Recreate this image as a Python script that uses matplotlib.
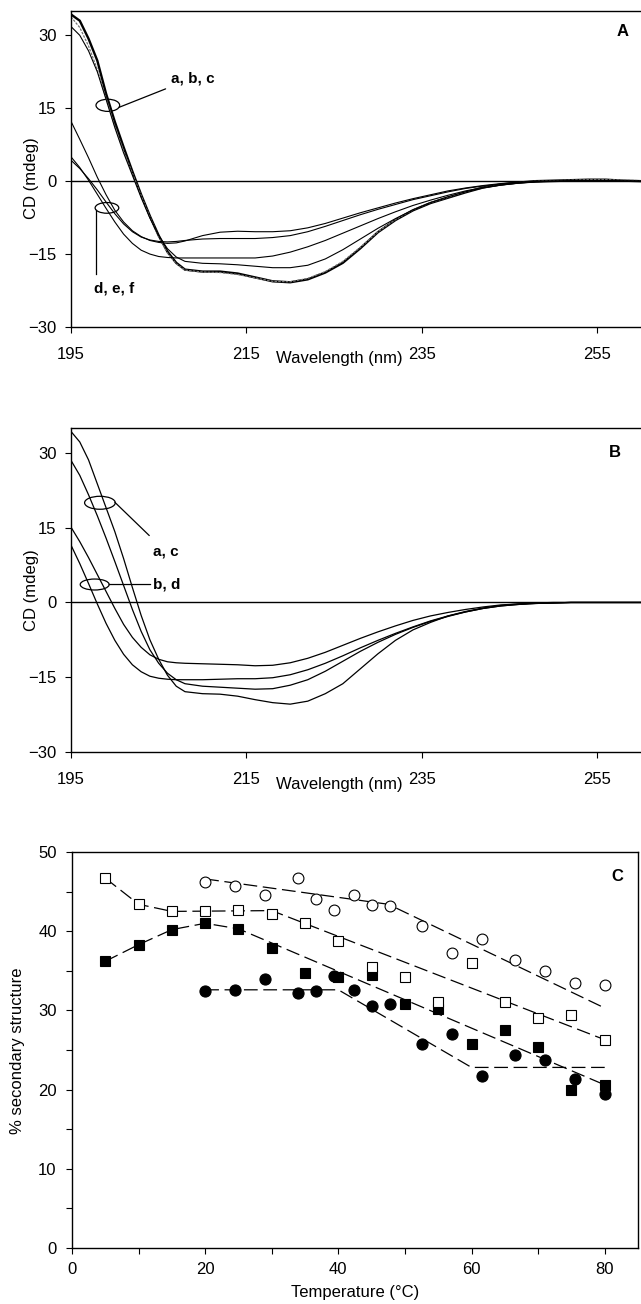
import matplotlib
matplotlib.use("Agg")
import matplotlib.pyplot as plt
from matplotlib.patches import Ellipse
from matplotlib.ticker import MultipleLocator

plt.rcParams['font.family'] = ['Liberation Sans', 'DejaVu Sans']
plt.rcParams['font.size'] = 12

# wavelength grid (nm) shared by the CD spectra
wavelength = [195, 196, 197, 198, 199, 200, 201, 202, 203, 204, 205, 206, 207, 208,
              210, 212, 214, 216, 218, 220, 222, 224, 226, 228, 230, 232, 234, 236,
              238, 240, 242, 244, 246, 248, 250, 252, 254, 256, 258, 260]

# panel A spectra (mdeg)
cdA_a = [34.3, 33.0, 29.3, 24.8, 18.0, 12.2, 7.0, 2.0, -2.8, -7.2, -11.2, -14.5, -16.8, -18.2,
         -18.6, -18.6, -19.0, -19.8, -20.6, -20.8, -20.2, -18.8, -16.8, -13.8, -10.5, -8.0, -6.0, -4.5,
         -3.4, -2.3, -1.3, -0.7, -0.3, 0.0, 0.1, 0.2, 0.3, 0.3, 0.1, 0.0]
cdA_b = [31.8, 30.0, 26.8, 22.5, 16.8, 11.0, 5.8, 1.2, -3.4, -7.6, -11.2, -13.9, -15.6, -16.5,
         -16.9, -17.0, -17.2, -17.5, -17.8, -17.8, -17.3, -16.0, -14.1, -11.9, -9.7, -7.7, -5.9, -4.4,
         -3.2, -2.2, -1.4, -0.8, -0.4, -0.2, -0.1, 0.0, 0.0, 0.1, 0.0, 0.0]
cdA_c = [33.8, 31.6, 27.8, 23.0, 17.0, 11.3, 6.2, 1.6, -3.0, -7.4, -11.4, -14.8, -17.0, -18.3,
         -18.7, -18.8, -19.2, -19.9, -20.6, -20.7, -20.0, -18.6, -16.5, -13.6, -10.4, -7.9, -5.9, -4.4,
         -3.3, -2.2, -1.3, -0.7, -0.3, 0.0, 0.1, 0.2, 0.3, 0.3, 0.2, 0.1]
cdA_d = [12.3, 8.6, 4.8, 0.8, -2.8, -6.0, -8.4, -10.2, -11.4, -12.2, -12.6, -12.8, -12.7, -12.3,
         -11.2, -10.5, -10.3, -10.4, -10.4, -10.2, -9.6, -8.7, -7.6, -6.5, -5.5, -4.5, -3.6, -2.8,
         -2.0, -1.4, -0.9, -0.5, -0.2, 0.0, 0.0, 0.1, 0.1, 0.1, 0.0, 0.0]
cdA_e = [5.0, 2.8, 0.2, -2.7, -5.6, -8.4, -10.9, -12.8, -14.2, -15.0, -15.5, -15.7, -15.8, -15.8,
         -15.8, -15.8, -15.8, -15.8, -15.4, -14.6, -13.5, -12.2, -10.7, -9.2, -7.7, -6.3, -5.0, -3.9,
         -2.9, -2.0, -1.3, -0.8, -0.4, -0.1, 0.0, 0.0, 0.0, 0.0, 0.0, 0.0]
cdA_f = [4.3, 2.6, 0.5, -1.8, -4.3, -6.7, -8.8, -10.4, -11.5, -12.1, -12.4, -12.5, -12.4, -12.2,
         -11.9, -11.8, -11.8, -11.8, -11.6, -11.2, -10.4, -9.3, -8.1, -6.9, -5.8, -4.8, -3.8, -3.0,
         -2.2, -1.5, -1.0, -0.6, -0.3, -0.1, 0.0, 0.0, 0.0, 0.0, 0.0, 0.0]

# panel B spectra (mdeg)
cdB_a = [34.3, 32.2, 28.6, 23.8, 19.0, 14.2, 8.8, 3.0, -2.6, -7.5, -11.4, -14.6, -16.8, -17.9,
         -18.3, -18.4, -18.8, -19.5, -20.1, -20.4, -19.8, -18.3, -16.3, -13.3, -10.3, -7.6, -5.5, -4.0,
         -2.7, -1.8, -1.1, -0.6, -0.3, -0.1, 0.0, 0.0, 0.0, 0.0, 0.0, 0.0]
cdB_b = [15.1, 12.2, 9.0, 5.6, 2.2, -1.2, -4.4, -7.0, -9.0, -10.5, -11.4, -11.9, -12.1, -12.2,
         -12.3, -12.4, -12.5, -12.7, -12.6, -12.1, -11.2, -10.0, -8.6, -7.2, -5.9, -4.7, -3.6, -2.7,
         -2.0, -1.4, -0.9, -0.5, -0.3, -0.1, -0.1, 0.0, 0.0, 0.0, 0.0, 0.0]
cdB_c = [28.5, 25.5, 21.6, 17.4, 12.9, 8.2, 3.4, -1.4, -5.8, -9.5, -12.2, -14.2, -15.5, -16.3,
         -16.8, -17.0, -17.2, -17.4, -17.3, -16.6, -15.5, -13.8, -11.8, -9.8, -8.0, -6.4, -5.0, -3.8,
         -2.8, -1.9, -1.2, -0.7, -0.4, -0.2, -0.1, 0.0, 0.0, 0.0, 0.0, 0.0]
cdB_d = [11.5, 7.8, 3.8, -0.3, -4.2, -7.6, -10.4, -12.5, -13.9, -14.8, -15.2, -15.4, -15.5, -15.5,
         -15.5, -15.4, -15.3, -15.3, -15.1, -14.5, -13.5, -12.2, -10.7, -9.1, -7.6, -6.2, -4.9, -3.7,
         -2.7, -1.9, -1.2, -0.7, -0.4, -0.2, -0.1, 0.0, 0.0, 0.0, 0.0, 0.0]

# panel C: % secondary structure vs temperature
temp_circles = [20, 24.5, 29, 33.9, 36.7, 39.3, 42.4, 45, 47.8, 52.5, 57, 61.6, 66.5, 71, 75.5, 80]
open_circles = [46.2, 45.7, 44.6, 46.7, 44.1, 42.7, 44.6, 43.3, 43.2, 40.6, 37.3, 39.0, 36.4, 35.0, 33.4, 33.2]
filled_circles = [32.5, 32.6, 34.0, 32.2, 32.5, 34.3, 32.6, 30.6, 30.8, 25.8, 27.0, 21.7, 24.4, 23.7, 21.4, 19.5]
temp_squares = [5, 10, 15, 20, 25, 30, 35, 40, 45, 50, 55, 60, 65, 70, 75, 80]
open_squares = [46.7, 43.4, 42.5, 42.5, 42.7, 42.2, 41.0, 38.7, 35.5, 34.2, 31.1, 36.0, 31.1, 29.1, 29.4, 26.3]
filled_squares = [36.2, 38.3, 40.2, 41.0, 40.3, 37.9, 34.7, 34.2, 34.5, 30.8, 30.2, 25.8, 27.5, 25.4, 19.9, 20.6]

# dashed fits (breakpoints)
fit_oc_t = [20, 47.5, 80]
fit_oc = [46.6, 43.4, 30.3]
fit_os_t = [5, 10, 15, 30, 80]
fit_os = [46.7, 43.4, 42.5, 42.6, 26.3]
fit_fs_t = [5, 10, 15, 20, 25, 80]
fit_fs = [36.2, 38.3, 40.2, 41.0, 40.3, 20.6]
fit_fc_t = [20, 40, 60, 80]
fit_fc = [32.6, 32.6, 22.8, 22.8]

fig = plt.figure(figsize=(6.41, 13.04), dpi=100)


def spectrum_axes(rect, letter, letter_pos, label_y):
    ax = fig.add_axes(rect)
    ax.set_xlim(195, 260)
    ax.set_ylim(-30, 35)
    ax.set_xticks([195, 215, 235, 255])
    ax.set_yticks([-30, -15, 0, 15, 30])
    ax.spines['right'].set_visible(False)
    for s in ax.spines.values():
        s.set_linewidth(1.0)
    ax.tick_params(axis='x', direction='out', length=4.5, width=0.8, pad=10, labelsize=12)
    ax.tick_params(axis='y', direction='out', length=4, width=0.8, pad=6.5, labelsize=12)
    ax.axhline(0, color='black', lw=1.0)
    ax.text(0.47, -0.1, 'Wavelength (nm)', transform=ax.transAxes, ha='center', va='center', fontsize=12)
    ax.set_ylabel('CD (mdeg)', fontsize=12)
    ax.yaxis.set_label_coords(-0.056, label_y)
    ax.text(letter_pos[0], letter_pos[1], letter, transform=ax.transAxes, fontweight='bold',
            ha='center', va='center', fontsize=12)
    return ax


# ---- panel A
axA = spectrum_axes([71 / 641, 1 - 327 / 1304, 570 / 641, 316 / 1304], 'A', (0.968, 0.934), 0.47)
axA.plot(wavelength, cdA_a, color='black', lw=1.7)
axA.plot(wavelength, cdA_c, color='0.45', lw=0.9, linestyle=(0, (2, 1)))
axA.plot(wavelength, cdA_b, color='black', lw=0.8)
axA.plot(wavelength, cdA_d, color='black', lw=0.8)
axA.plot(wavelength, cdA_e, color='black', lw=0.8)
axA.plot(wavelength, cdA_f, color='black', lw=0.8)

axA.add_patch(Ellipse((199.2, 15.6), 2.7, 2.5, fill=False, lw=0.9, color='black'))
axA.annotate('a, b, c', xy=(200.5, 15.2), xytext=(206.4, 21.2), fontsize=11, fontweight='bold',
             va='center', ha='left', arrowprops=dict(arrowstyle='-', lw=0.9, shrinkA=2, shrinkB=0))
axA.add_patch(Ellipse((199.1, -5.5), 2.7, 2.2, fill=False, lw=0.9, color='black'))
axA.plot([197.8, 197.8], [-5.9, -19.0], color='black', lw=0.9)
axA.text(197.6, -22.0, 'd, e, f', fontsize=11, fontweight='bold', va='center', ha='left')

# ---- panel B
axB = spectrum_axes([71 / 641, 1 - 752 / 1304, 570 / 641, 324 / 1304], 'B', (0.954, 0.923), 0.5)
axB.plot(wavelength, cdB_a, color='black', lw=0.9)
axB.plot(wavelength, cdB_b, color='black', lw=0.9)
axB.plot(wavelength, cdB_c, color='black', lw=0.9)
axB.plot(wavelength, cdB_d, color='black', lw=0.9)

axB.add_patch(Ellipse((198.3, 20.0), 3.5, 2.6, fill=False, lw=0.9, color='black'))
axB.annotate('a, c', xy=(200.0, 20.1), xytext=(204.3, 10.3), fontsize=11, fontweight='bold',
             va='center', ha='left', arrowprops=dict(arrowstyle='-', lw=0.9, shrinkA=6, shrinkB=0))
axB.add_patch(Ellipse((197.7, 3.6), 3.3, 2.2, fill=False, lw=0.9, color='black'))
axB.annotate('b, d', xy=(199.35, 3.6), xytext=(204.4, 3.6), fontsize=11, fontweight='bold',
             va='center', ha='left', arrowprops=dict(arrowstyle='-', lw=0.9, shrinkA=0, shrinkB=0))

# ---- panel C
axC = fig.add_axes([72 / 641, 1 - 1248 / 1304, 566 / 641, 396 / 1304])
axC.set_xlim(0, 85)
axC.set_ylim(0, 50)
axC.xaxis.set_major_locator(MultipleLocator(20))
axC.xaxis.set_minor_locator(MultipleLocator(10))
axC.yaxis.set_major_locator(MultipleLocator(10))
axC.yaxis.set_minor_locator(MultipleLocator(5))
for s in axC.spines.values():
    s.set_linewidth(1.0)
axC.tick_params(axis='x', which='both', direction='out', length=4.5, width=0.8, pad=5.5, labelsize=12)
axC.tick_params(axis='y', which='both', direction='out', length=4.5, width=0.8, pad=6.5, labelsize=12)

dash = (0, (11, 4.5))
axC.plot(fit_oc_t, fit_oc, color='black', lw=0.9, linestyle=dash)
axC.plot(fit_os_t, fit_os, color='black', lw=0.9, linestyle=dash)
axC.plot(fit_fs_t, fit_fs, color='black', lw=0.9, linestyle=dash)
axC.plot(fit_fc_t, fit_fc, color='black', lw=0.9, linestyle=dash)

axC.plot(temp_circles, filled_circles, 'o', ms=8, mfc='black', mec='black', mew=0.8)
axC.plot(temp_squares, filled_squares, 's', ms=6.6, mfc='black', mec='black', mew=0.8)
axC.plot(temp_squares, open_squares, 's', ms=6.6, mfc='white', mec='black', mew=0.8)
axC.plot(temp_circles, open_circles, 'o', ms=7.8, mfc='white', mec='black', mew=0.8)

axC.set_xlabel('Temperature (°C)', fontsize=12)
axC.xaxis.set_label_coords(0.5, -0.094)
axC.set_ylabel('% secondary structure', fontsize=12)
axC.yaxis.set_label_coords(-0.083, 0.497)
axC.text(0.964, 0.938, 'C', transform=axC.transAxes, fontweight='bold', ha='center', va='center', fontsize=12)

fig.savefig('out.png', dpi=100)
